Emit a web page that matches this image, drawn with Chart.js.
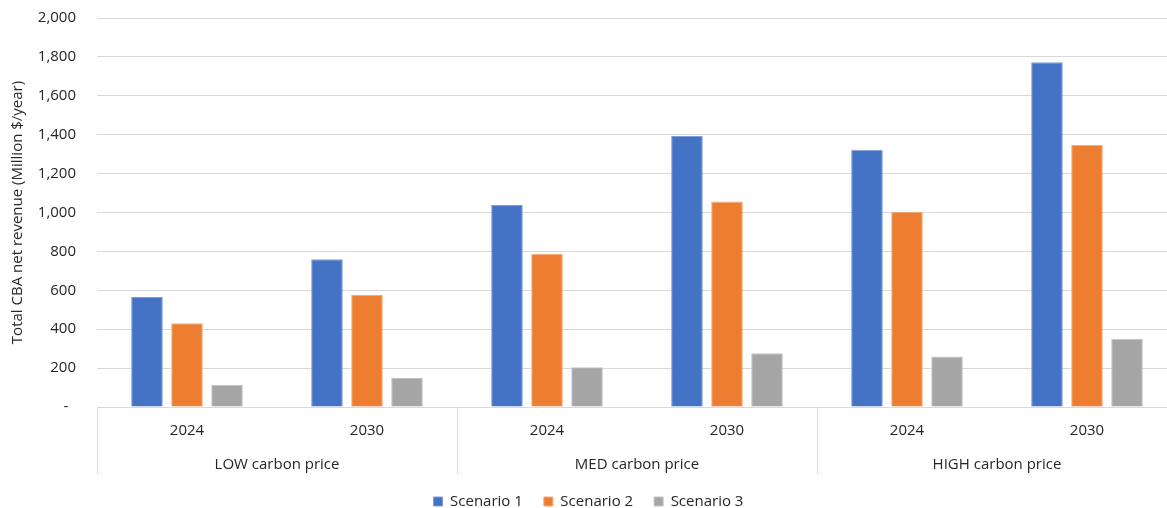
<!DOCTYPE html>
<html>
<head>
<meta charset="utf-8">
<script src="https://cdn.jsdelivr.net/npm/chart.js@4.4.1/dist/chart.umd.min.js"></script>
<style>
  html, body { margin: 0; padding: 0; background: #ffffff; overflow: hidden; width: 1167px; height: 508px; }
  #wrap { position: relative; width: 1177px; height: 508px; }
</style>
</head>
<body>
<div id="wrap"><canvas id="chart"></canvas></div>
<script>
// Category labels: inner level (year) and outer level (carbon price case)
const years = ['2024', '2030', '2024', '2030', '2024', '2030'];
const priceCases = ['LOW carbon price', 'MED carbon price', 'HIGH carbon price'];

// Total CBA net revenue, Million $/year
const scenario1 = [565, 759, 1038, 1393, 1323, 1772];
const scenario2 = [430, 576, 788, 1057, 1004, 1347];
const scenario3 = [113, 149, 204, 276, 260, 351];

const seriesNames = ['Scenario 1', 'Scenario 2', 'Scenario 3'];

// Y axis range
const yMin = 0;
const yMax = 2000;
const yStep = 200;

const FONT = '"Open Sans", "Noto Sans", sans-serif';
const TEXT = '#262626';
const GRID = '#d9d9d9';

// Vertical separators of the two-level category axis
const categorySeparators = {
  id: 'categorySeparators',
  afterDraw(chart) {
    const x = chart.scales.x;
    const x2 = chart.scales.x2;
    const ctx = chart.ctx;
    const top = x.top;
    const bottom = x2.top + 27;
    const xs = [x.left];
    for (let i = 1; i < years.length; i += 2) {
      if (i + 1 < years.length) {
        xs.push((x.getPixelForValue(i) + x.getPixelForValue(i + 1)) / 2);
      }
    }
    xs.push(x.right);
    ctx.save();
    ctx.strokeStyle = GRID;
    ctx.lineWidth = 1;
    xs.forEach(px => {
      const p = Math.round(px) + 0.5;
      ctx.beginPath();
      ctx.moveTo(p, top);
      ctx.lineTo(p, bottom);
      ctx.stroke();
    });
    ctx.restore();
  }
};

new Chart(document.getElementById('chart'), {
  type: 'bar',
  data: {
    labels: years,
    datasets: [
      { label: seriesNames[0], data: scenario1, backgroundColor: '#4472c4', borderColor: '#7f9fd8', borderWidth: 1 },
      { label: seriesNames[1], data: scenario2, backgroundColor: '#ed7d31', borderColor: '#f3ab7c', borderWidth: 1 },
      { label: seriesNames[2], data: scenario3, backgroundColor: '#a5a5a5', borderColor: '#c4c4c4', borderWidth: 1 }
    ]
  },
  options: {
    responsive: true,
    maintainAspectRatio: false,
    animation: false,
    devicePixelRatio: 1,
    datasets: {
      bar: { categoryPercentage: 0.667, barPercentage: 0.79 }
    },
    layout: { padding: { left: 0, right: 0, top: 18, bottom: -11 } },
    plugins: {
      legend: {
        position: 'bottom',
        labels: {
          font: { family: FONT, size: 15 },
          color: TEXT,
          boxWidth: 9,
          boxHeight: 9,
          padding: 21
        }
      },
      tooltip: { enabled: false }
    },
    scales: {
      x: {
        type: 'category',
        position: 'bottom',
        weight: 0,
        offset: true,
        grid: { display: false, drawTicks: false },
        border: { display: true, color: GRID, width: 1 },
        ticks: { font: { family: FONT, size: 15 }, color: TEXT, padding: 15, maxRotation: 0, autoSkip: false },
        afterFit(scale) { scale.height = 40; }
      },
      x2: {
        type: 'category',
        position: 'bottom',
        weight: 1,
        labels: priceCases,
        offset: true,
        grid: { display: false, drawTicks: false },
        border: { display: false },
        ticks: { font: { family: FONT, size: 15 }, color: TEXT, padding: 9, maxRotation: 0, autoSkip: false },
        afterFit(scale) { scale.height = 26; }
      },
      y: {
        min: yMin,
        max: yMax,
        grid: { color: GRID, lineWidth: 1, drawTicks: false },
        border: { display: false },
        ticks: {
          stepSize: yStep,
          padding: 21,
          font: { family: FONT, size: 15 },
          color: TEXT,
          callback: v => v === 0 ? '-  ' : v.toLocaleString('en-US')
        },
        title: {
          display: true,
          text: 'Total CBA net revenue (Million $/year)',
          font: { family: FONT, size: 15 },
          color: TEXT,
          padding: { top: 9, bottom: 0 }
        },
        afterFit(scale) {
          scale.width = 97;
          scale.paddingTop = 0;
          scale.paddingBottom = 0;
        }
      }
    }
  },
  plugins: [categorySeparators]
});
</script>
</body>
</html>
